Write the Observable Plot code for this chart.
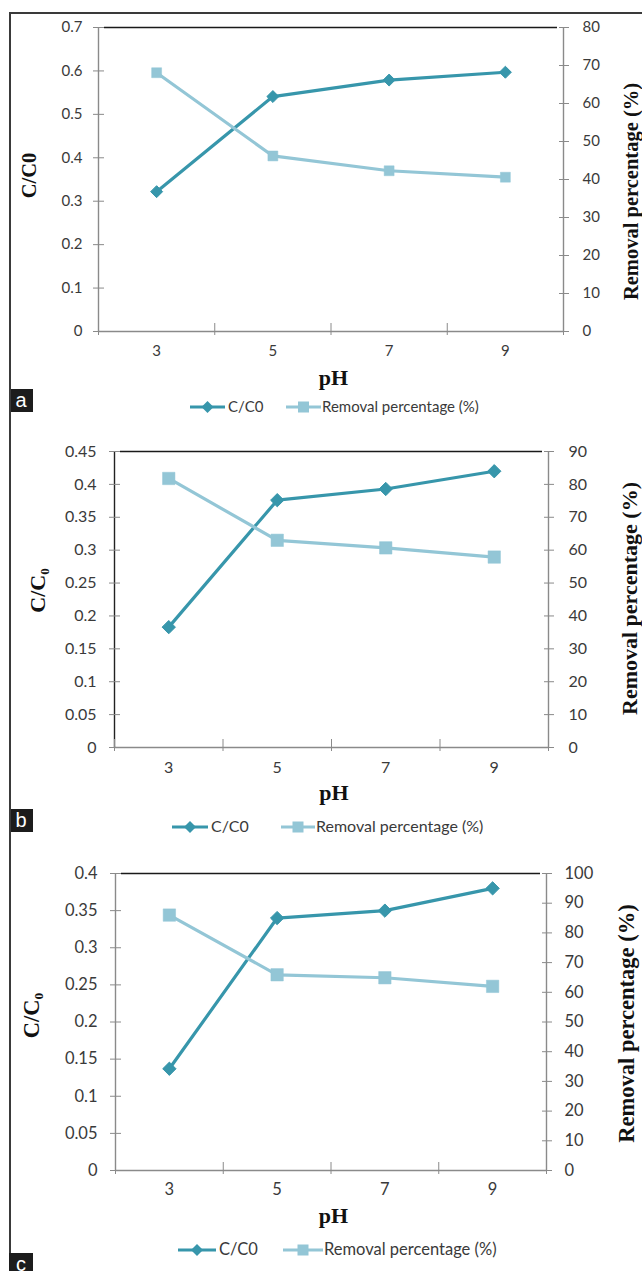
<!DOCTYPE html>
<html><head><meta charset="utf-8">
<script src="https://cdn.jsdelivr.net/npm/d3@7"></script>
<script src="https://cdn.jsdelivr.net/npm/@observablehq/plot@0.6"></script>
<style>
body{margin:0;background:#fff;}
#root{position:relative;width:642px;height:1271px;overflow:hidden;background:#fff;}
#root svg{position:absolute;left:0;}
.letter{position:absolute;left:9px;width:24px;background:#1c1c1c;color:#fff;font-family:"Liberation Sans",Arial,sans-serif;font-size:20px;line-height:22px;text-align:center;overflow:hidden;}
.legtext{position:absolute;font-family:Lato,sans-serif;color:#3a3a3a;white-space:nowrap;line-height:1;}
</style></head><body><div id="root"></div>
<script>
// ---- data ----
const pH = [3, 5, 7, 9];
const ratioA = [0.322, 0.541, 0.579, 0.597];
const removalA = [68.1, 46.2, 42.3, 40.6];
const ratioB = [0.183, 0.376, 0.393, 0.420];
const removalB = [81.8, 63.0, 60.7, 57.9];
const ratioC = [0.137, 0.340, 0.350, 0.380];
const removalC = [86.0, 65.9, 64.9, 62.0];
const ratioTicksA = [0, 0.1, 0.2, 0.3, 0.4, 0.5, 0.6, 0.7];
const ratioTicksB = [0, 0.05, 0.1, 0.15, 0.2, 0.25, 0.3, 0.35, 0.4, 0.45];
const ratioTicksC = [0, 0.05, 0.1, 0.15, 0.2, 0.25, 0.3, 0.35, 0.4];
const removalTicksA = [0, 10, 20, 30, 40, 50, 60, 70, 80];
const removalTicksB = [0, 10, 20, 30, 40, 50, 60, 70, 80, 90];
const removalTicksC = [0, 10, 20, 30, 40, 50, 60, 70, 80, 90, 100];
const xDividers = [2, 4, 6, 8, 10];
const panelLetters = ["a", "b", "c"];
const ratioTitles = ["C/C0", "C/C\u2080", "C/C\u2080"];
const removalTitle = "Removal percentage (%)";
const xTitle = "pH";
const legendLabels = ["C/C0", "Removal percentage (%)"];

// ---- layout / style ----
const DARK = "#3796ab", LIGHT = "#93c6d6", AXIS = "#8a8a8a", TXT = "#3a3a3a";
const panels = [
  {top: 0, height: 420, ml: 98, mr: 79, mt: 27, mb: 89, ratio: ratioA, removal: removalA, rt: ratioTicksA, mt2: removalTicksA,
   yMax: 0.7, rMax: 80, fs: 15, lpad: 11, rpad: 14, xpad: 14, leftAxis: AXIS, titleFs: 20.5, ratioDx: -69, ratioDy: -4,
   remDx: 68, remDy: 12, phDy: 46, sq: 5.6, dia: 5.4,
   leg: {y: 407, l1: 190, t1: 228, l2: 286, t2: 322, fs: 15}, letterTop: 389, letterH: 23},
  {top: 420, height: 420, ml: 114, mr: 94, mt: 31, mb: 93, ratio: ratioB, removal: removalB, rt: ratioTicksB, mt2: removalTicksB,
   yMax: 0.45, rMax: 90, fs: 16, lpad: 13, rpad: 15, xpad: 14, leftAxis: "#222", titleFs: 22, ratioDx: -77, ratioDy: -9,
   remDx: 81, remDy: -1, phDy: 45, sq: 7, dia: 6,
   leg: {y: 827, l1: 172, t1: 211, l2: 281, t2: 316, fs: 16}, letterTop: 809, letterH: 23},
  {top: 840, height: 431, ml: 115, mr: 96, mt: 33, mb: 101, ratio: ratioC, removal: removalC, rt: ratioTicksC, mt2: removalTicksC,
   yMax: 0.4, rMax: 100, fs: 16.5, lpad: 13, rpad: 13, xpad: 13, leftAxis: AXIS, titleFs: 22.5, ratioDx: -84, ratioDy: -6.5,
   remDx: 80, remDy: 1.5, phDy: 45, sq: 7, dia: 6,
   leg: {y: 1250, l1: 178, t1: 219, l2: 283, t2: 324, fs: 16.5}, letterTop: 1253, letterH: 22}
];

const root = document.getElementById("root");
const serif = "'Liberation Serif','DejaVu Serif',serif";

panels.forEach((p, i) => {
  const data = pH.map((x, k) => ({pH: x, ratio: p.ratio[k], removal: p.removal[k]}));
  const common = {width: 642, height: p.height, marginLeft: p.ml, marginRight: p.mr, marginTop: p.mt, marginBottom: p.mb,
    style: {background: "transparent", fontFamily: "Lato, sans-serif", overflow: "visible"}};
  const left = Plot.plot({
    ...common,
    x: {domain: [2, 10], axis: null},
    y: {domain: [0, p.yMax], axis: null},
    marks: [
      Plot.ruleY([p.yMax], {stroke: "#1a1a1a", strokeWidth: 1.5, insetLeft: 6, insetRight: 6}),
      Plot.ruleY([0], {stroke: AXIS, strokeWidth: 1.4}),
      Plot.ruleX([2], {stroke: p.leftAxis, strokeWidth: 1.4}),
      Plot.axisY(p.rt, {anchor: "left", tickSize: 11, dx: 6, tickPadding: p.lpad, stroke: AXIS, fill: TXT,
        fontSize: p.fs, tickFormat: d => String(d), label: null}),
      Plot.axisX(xDividers, {anchor: "bottom", tickSize: 12, dy: -8, tickFormat: () => "", stroke: AXIS, label: null}),
      Plot.axisX(pH, {anchor: "bottom", tickSize: 0, tickPadding: p.xpad, fill: TXT, fontSize: p.fs,
        tickFormat: d => String(d), label: null}),
      Plot.line(data, {x: "pH", y: "ratio", stroke: DARK, strokeWidth: 3.2}),
      Plot.dot(data, {x: "pH", y: "ratio", symbol: "diamond2", r: p.dia, fill: DARK, stroke: DARK, strokeWidth: 1}),
      Plot.text([ratioTitles[i]], {frameAnchor: "left", text: d => d, rotate: -90, dx: p.ratioDx, dy: p.ratioDy,
        textAnchor: "middle", lineAnchor: "middle",
        fontFamily: serif, fontWeight: "bold", fontSize: p.titleFs, fill: "#111"}),
      Plot.text([xTitle], {frameAnchor: "bottom", text: d => d, dx: 2.5, dy: p.phDy,
        textAnchor: "middle", lineAnchor: "middle",
        fontFamily: serif, fontWeight: "bold", fontSize: 22, fill: "#111"})
    ]
  });
  const right = Plot.plot({
    ...common,
    x: {domain: [2, 10], axis: null},
    y: {domain: [0, p.rMax], axis: null},
    marks: [
      Plot.ruleX([10], {stroke: AXIS, strokeWidth: 1.4}),
      Plot.axisY(p.mt2, {anchor: "right", tickSize: 10, dx: -5, tickPadding: p.rpad, stroke: AXIS, fill: TXT,
        fontSize: p.fs, tickFormat: d => String(d), label: null}),
      Plot.line(data, {x: "pH", y: "removal", stroke: LIGHT, strokeWidth: 3.2}),
      Plot.dot(data, {x: "pH", y: "removal", symbol: "square", r: p.sq, fill: LIGHT, stroke: LIGHT, strokeWidth: 0.5}),
      Plot.text([removalTitle], {frameAnchor: "right", text: d => d, rotate: -90, dx: p.remDx, dy: p.remDy,
        textAnchor: "middle", lineAnchor: "middle",
        fontFamily: serif, fontWeight: "bold", fontSize: p.titleFs, fill: "#111"})
    ]
  });
  left.style.top = p.top + "px";
  right.style.top = p.top + "px";
  root.appendChild(left);
  root.appendChild(right);

  // legend
  const L = p.leg;
  const ns = "http://www.w3.org/2000/svg";
  const lg = document.createElementNS(ns, "svg");
  lg.setAttribute("width", 642); lg.setAttribute("height", 24);
  lg.style.top = (L.y - 12) + "px";
  const mk = (tag, attrs) => { const e = document.createElementNS(ns, tag); for (const k in attrs) e.setAttribute(k, attrs[k]); lg.appendChild(e); };
  mk("line", {x1: L.l1, x2: L.t1 - 3, y1: 12, y2: 12, stroke: DARK, "stroke-width": 3.2});
  const cx1 = (L.l1 + L.t1 - 3) / 2;
  mk("path", {d: `M${cx1},${12 - 6}L${cx1 + 6},12L${cx1},${12 + 6}L${cx1 - 6},12Z`, fill: DARK});
  mk("line", {x1: L.l2, x2: L.t2 - 1, y1: 12, y2: 12, stroke: LIGHT, "stroke-width": 3.2});
  const cx2 = (L.l2 + L.t2 - 1) / 2;
  mk("rect", {x: cx2 - 5.5, y: 12 - 5.5, width: 11, height: 11, fill: LIGHT});
  root.appendChild(lg);
  [[legendLabels[0], L.t1], [legendLabels[1], L.t2]].forEach(([t, x]) => {
    const s = document.createElement("div");
    s.className = "legtext";
    s.textContent = t;
    s.style.left = x + "px";
    s.style.fontSize = L.fs + "px";
    s.style.top = (L.y - L.fs * 0.55) + "px";
    root.appendChild(s);
  });

  // panel letter
  const d = document.createElement("div");
  d.className = "letter";
  d.textContent = panelLetters[i];
  d.style.top = p.letterTop + "px";
  d.style.height = p.letterH + "px";
  root.appendChild(d);
});

// frame lines
const vl = document.createElement("div");
Object.assign(vl.style, {position: "absolute", left: "9px", top: "12px", width: "1.5px", height: "1241px", background: "#3a3a3a"});
root.appendChild(vl);
const hl = document.createElement("div");
Object.assign(hl.style, {position: "absolute", left: "9px", top: "12px", width: "633px", height: "1.5px", background: "#3a3a3a"});
root.appendChild(hl);
</script></body></html>
